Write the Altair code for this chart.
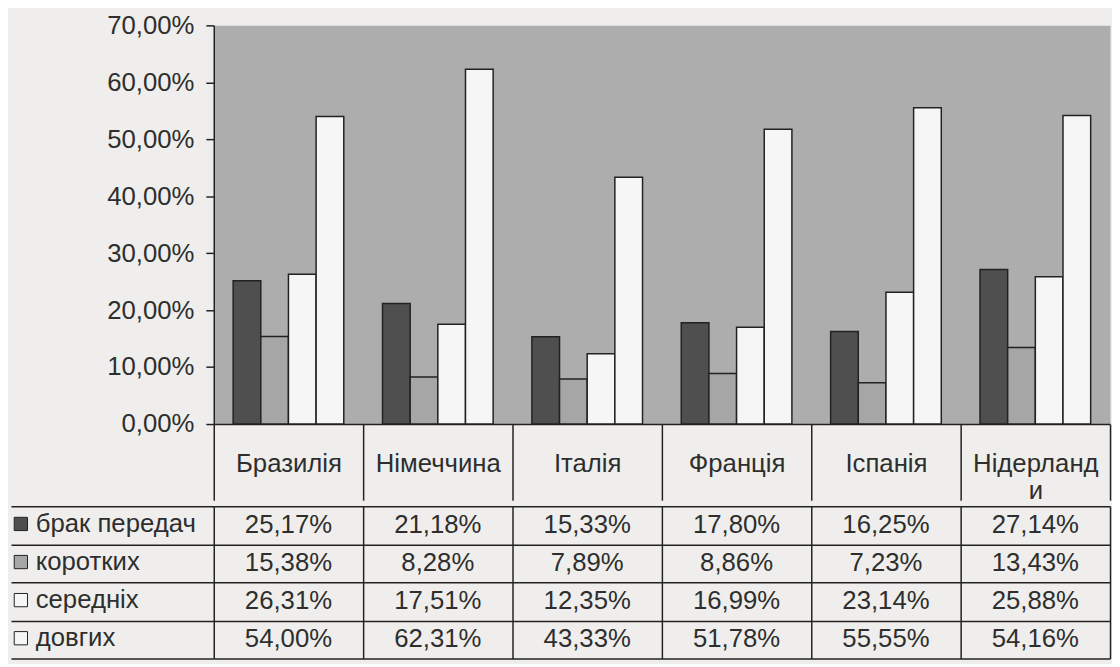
import altair as alt
import pandas as pd

countries = ["Бразилія", "Німеччина", "Італія", "Франція", "Іспанія", "Нідерланди"]
series = ["брак передач", "коротких", "середніх", "довгих"]
brak = [25.17, 21.18, 15.33, 17.80, 16.25, 27.14]
korotkykh = [15.38, 8.28, 7.89, 8.86, 7.23, 13.43]
serednikh = [26.31, 17.51, 12.35, 16.99, 23.14, 25.88]
dovhykh = [54.00, 62.31, 43.33, 51.78, 55.55, 54.16]
y_ticks = [0, 10, 20, 30, 40, 50, 60, 70]
colors = ["#4f4f4f", "#a6a6a6", "#f6f6f6", "#f6f6f6"]

rows = []
for s, vals in zip(series, [brak, korotkykh, serednikh, dovhykh]):
    for c, v in zip(countries, vals):
        rows.append({"country": c, "series": s, "value": v})
df = pd.DataFrame(rows)

FONT = "Liberation Sans"
FS = 26
TXT = "#2e2e2e"
LINE = "#222222"

x_scale = alt.Scale(domain=countries, paddingInner=0, paddingOuter=0)

bars = alt.Chart(df).mark_bar(stroke=LINE, strokeWidth=1.5).encode(
    x=alt.X("country:N", sort=countries, scale=x_scale, title=None,
            axis=alt.Axis(orient="bottom", labelFont=FONT, labelFontSize=FS, labelColor=TXT,
                          labelAngle=0, tickBand="extent", tickSize=77, tickColor=LINE,
                          tickWidth=1.5, domainColor=LINE, domainWidth=1.5,
                          labelPadding=-37, labelBaseline="middle", labelLineHeight=27,
                          labelExpr="datum.label == 'Нідерланди' ? ['Нідерланд', 'и'] : datum.label",
                          labelLimit=0, labelOverlap=False, minExtent=77, maxExtent=77)),
    xOffset=alt.XOffset("series:N", sort=series,
                        scale=alt.Scale(domain=series, paddingInner=0, paddingOuter=0.7)),
    y=alt.Y("value:Q", scale=alt.Scale(domain=[0, 70], nice=False), title=None,
            axis=alt.Axis(values=y_ticks,
                          labelExpr="replace(format(datum.value, '.2f'), '.', ',') + '%'",
                          labelFont=FONT, labelFontSize=FS, labelColor=TXT, tickSize=8,
                          tickColor=LINE, tickWidth=1.5, domainColor=LINE, domainWidth=1.5,
                          labelPadding=12, grid=False, minExtent=205, maxExtent=205)),
    fill=alt.Fill("series:N", sort=series, scale=alt.Scale(domain=series, range=colors),
                  legend=alt.Legend(title=None, orient="none", legendX=-208, legendY=491,
                                    direction="vertical", symbolType="square", symbolSize=180,
                                    symbolStrokeColor=LINE, symbolStrokeWidth=1,
                                    labelFont=FONT, labelFontSize=FS, labelColor=TXT,
                                    labelLimit=0, rowPadding=12.5, labelOffset=2, padding=0)),
).properties(width=906, height=403,
             view=alt.ViewBackground(fill="#adadad", stroke="transparent"))

table = alt.Chart(df).transform_calculate(
    label="replace(format(datum.value, '.2f'), '.', ',') + '%'"
).mark_text(font=FONT, fontSize=FS, color=TXT).encode(
    x=alt.X("country:N", sort=countries, scale=x_scale, title=None,
            axis=alt.Axis(labels=False, ticks=False, domain=False, grid=True,
                          tickBand="extent", gridColor=LINE, gridWidth=1.5,
                          minExtent=0, maxExtent=0)),
    y=alt.Y("series:N", sort=series, title=None,
            scale=alt.Scale(domain=series, paddingInner=0, paddingOuter=0),
            axis=alt.Axis(labels=False, domain=False, ticks=True, tickSize=205,
                          tickColor=LINE, tickWidth=1.5, grid=True, gridColor=LINE,
                          gridWidth=1.5, tickBand="extent", minExtent=205, maxExtent=205)),
    text="label:N",
).properties(width=906, height=154,
             view=alt.ViewBackground(fill="transparent", stroke="transparent"))

chart = alt.vconcat(bars, table, spacing=0).resolve_scale(
    x="independent", y="independent"
).properties(
    background="#efeeec",
    padding={"top": 0, "left": 0, "right": 0, "bottom": 0},
)

chart.save("out.html", embed_options={"renderer": "svg", "actions": False})
